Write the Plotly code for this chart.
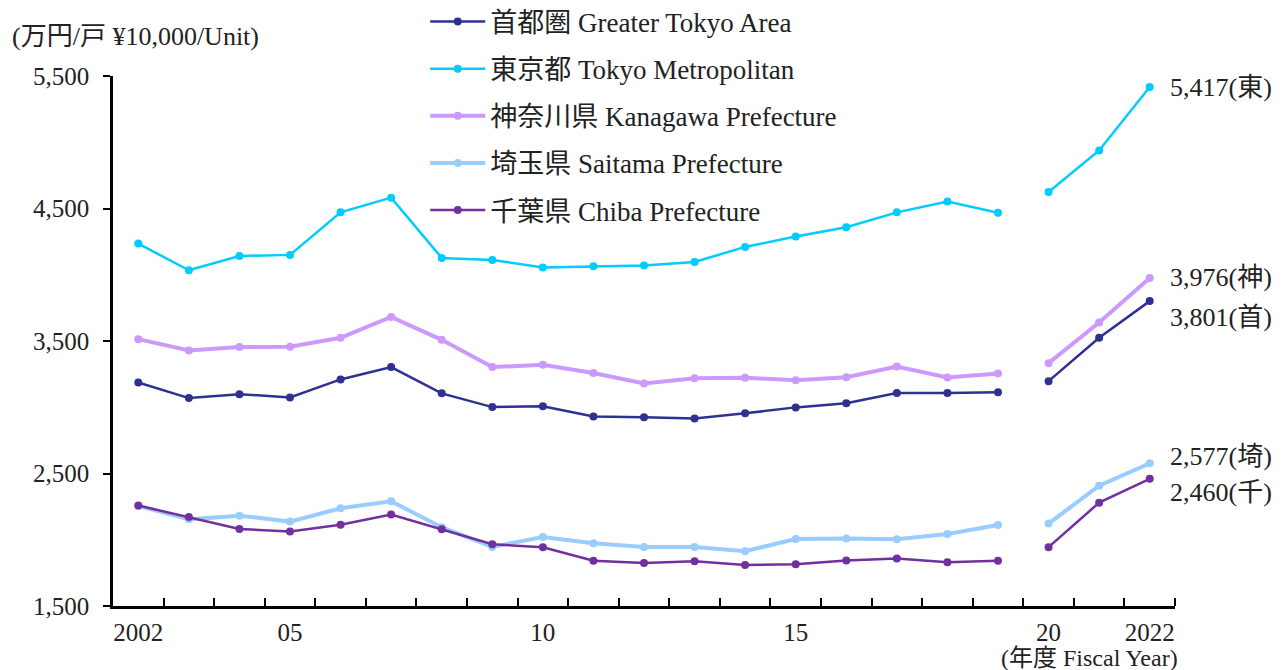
import plotly.graph_objects as go

years = list(range(2002, 2023))
break_after = 2019

series_names = ["首都圏 Greater Tokyo Area", "東京都 Tokyo Metropolitan", "神奈川県 Kanagawa Prefecture",
                "埼玉県 Saitama Prefecture", "千葉県 Chiba Prefecture"]
short_names = ["首", "東", "神", "埼", "千"]

greater_tokyo = [3187, 3069, 3099, 3074, 3210, 3303, 3105, 3001, 3007, 2931, 2924, 2916, 2954, 2999, 3031,
                 3107, 3107, 3114, 3197, 3524, 3801]
tokyo = [4235, 4034, 4142, 4150, 4471, 4582, 4127, 4112, 4054, 4064, 4069, 4097, 4210, 4288, 4358,
         4471, 4552, 4468, 4624, 4938, 5417]
kanagawa = [3514, 3429, 3454, 3456, 3524, 3682, 3509, 3303, 3320, 3258, 3180, 3218, 3223, 3203, 3227,
            3308, 3225, 3255, 3333, 3640, 3976]
saitama = [2255, 2155, 2182, 2137, 2238, 2290, 2095, 1946, 2021, 1974, 1946, 1946, 1914, 2006, 2009,
           2003, 2044, 2112, 2122, 2408, 2577]
chiba = [2258, 2172, 2082, 2062, 2114, 2190, 2079, 1966, 1944, 1841, 1825, 1838, 1810, 1815, 1844,
         1858, 1831, 1841, 1944, 2280, 2460]

all_values = [greater_tokyo, tokyo, kanagawa, saitama, chiba]
colors = ["#2E3192", "#00CCFF", "#CC99FF", "#99CCFF", "#7030A0"]
widths = [2.5, 2.5, 4, 4, 2.5]
label_yshift = [-16, 0, 0, 7, -14]

tick_labels_x = {2002: "2002", 2005: "05", 2010: "10", 2015: "15", 2020: "20", 2022: "2022"}
y_ticks = [1500, 2500, 3500, 4500, 5500]

FONT = "Liberation Serif, 'Noto Sans CJK JP', serif"
TXT = "#222222"

fig = go.Figure()
for i, (name, vals) in enumerate(zip(series_names, all_values)):
    xs, ys = [], []
    for yr, v in zip(years, vals):
        xs.append(yr)
        ys.append(v)
        if yr == break_after:
            xs.append(yr + 0.5)
            ys.append(None)
    fig.add_trace(go.Scatter(
        x=xs, y=ys, name=name, mode="lines+markers", legendgroup=f"g{i}",
        line=dict(color=colors[i], width=widths[i]),
        marker=dict(color=colors[i], size=8),
        connectgaps=False,
    ))

for i, vals in enumerate(all_values):
    fig.add_annotation(x=years[-1], y=vals[-1], text=f"{vals[-1]:,}({short_names[i]})",
                       xanchor="left", yanchor="middle", xshift=18, yshift=label_yshift[i],
                       showarrow=False, font=dict(size=26, color=TXT, family=FONT))

fig.add_annotation(xref="paper", yref="paper", x=-0.097, y=1.0736, text="(万円/戸 ¥10,000/Unit)",
                   xanchor="left", yanchor="middle", showarrow=False,
                   font=dict(size=26, color=TXT, family=FONT))
fig.add_annotation(xref="paper", yref="paper", x=1.005, y=-0.099, text="(年度 Fiscal Year)",
                   xanchor="right", yanchor="middle", showarrow=False,
                   font=dict(size=24, color=TXT, family=FONT))

fig.update_layout(
    width=1283, height=670,
    margin=dict(l=105, r=116, t=68, b=72, autoexpand=False),
    paper_bgcolor="white", plot_bgcolor="white",
    font=dict(family=FONT, size=25, color=TXT),
    legend=dict(x=0.294, y=1.148, xanchor="left", yanchor="top", bgcolor="rgba(0,0,0,0)",
                traceorder="grouped", tracegroupgap=9, itemwidth=55,
                font=dict(size=27, family=FONT, color=TXT)),
    xaxis=dict(range=[2001.5, 2022.5], tickvals=list(tick_labels_x.keys()),
               ticktext=list(tick_labels_x.values()), ticks="", showgrid=False, zeroline=False,
               showline=True, linecolor="black", linewidth=2.5, ticklabelstandoff=2,
               minor=dict(tickvals=[y + 0.5 for y in years], ticks="inside", ticklen=8,
                          tickwidth=2, tickcolor="black", showgrid=False)),
    yaxis=dict(range=[1500, 5500], tickvals=y_ticks, tickformat=",", ticks="outside", ticklen=7,
               tickwidth=2, tickcolor="black", showgrid=False, zeroline=False, showline=True,
               linecolor="black", linewidth=2.5, ticklabelstandoff=9),
)

fig.write_html("out.html")
